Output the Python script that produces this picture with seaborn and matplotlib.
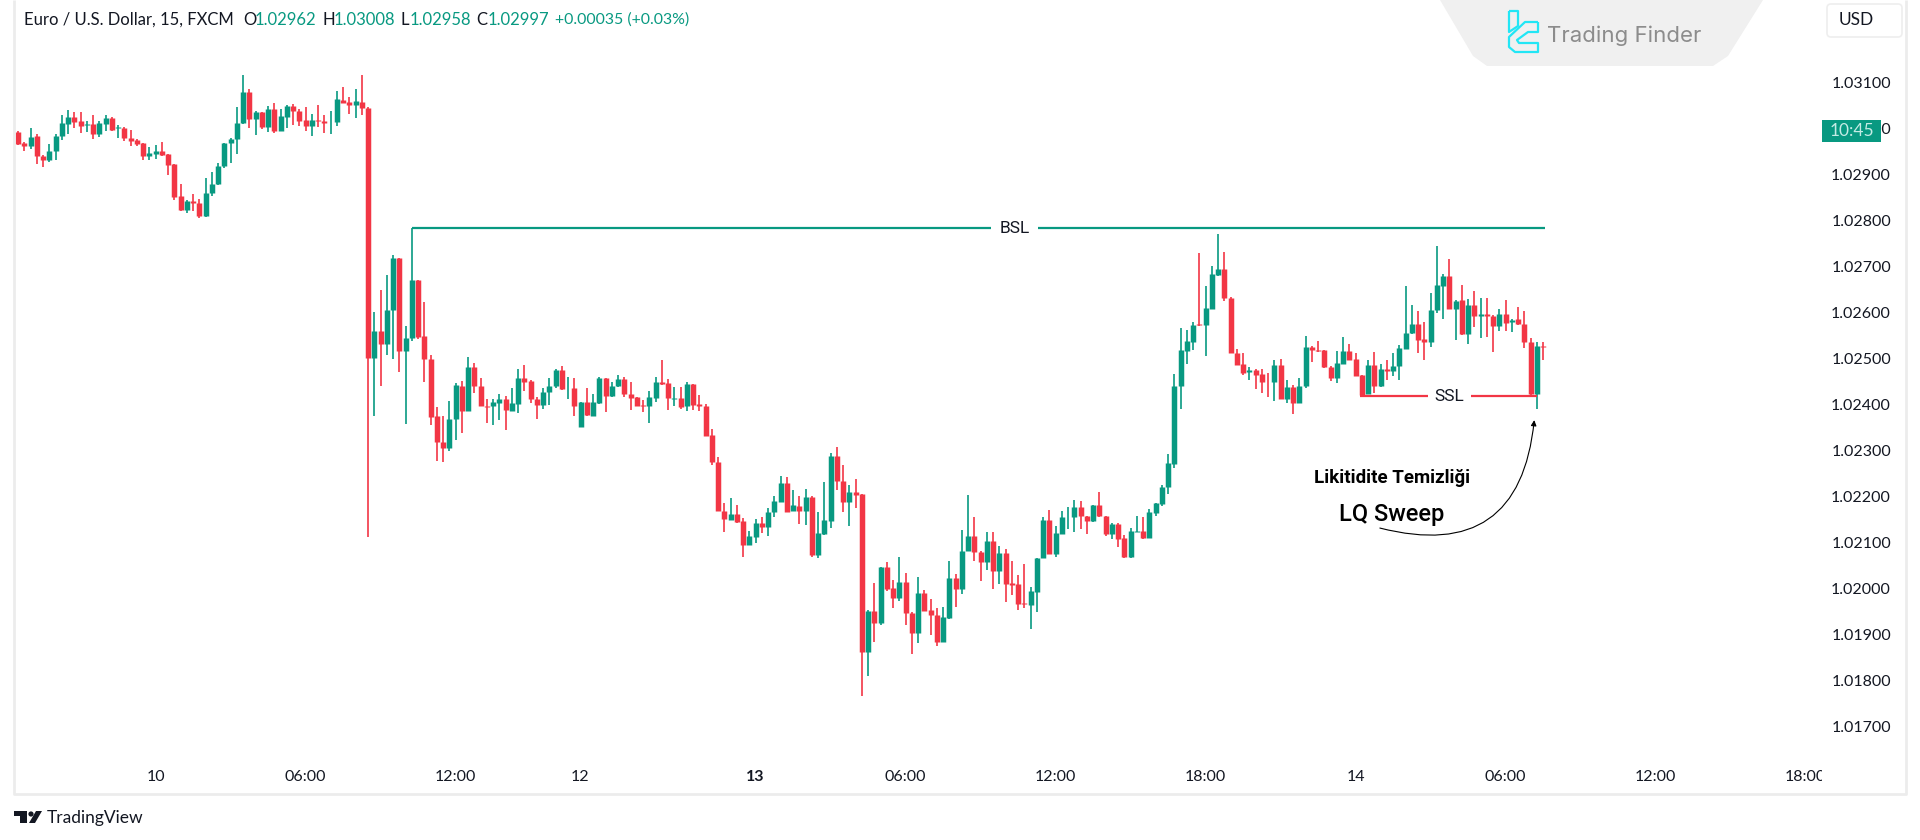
import matplotlib
matplotlib.use("Agg")
import numpy as np
import pandas as pd
import matplotlib.pyplot as plt
import matplotlib.patches as mpatches
from matplotlib.transforms import Bbox
import seaborn as sns
import seaborn.objects as so

# EURUSD 15m candles, in 1e-5 price points
directions = list(
    "RRGRRGGGGR" "RGRGGRGRRR" "RGGRRRRGRR" "GGGGGGGRGR" "GRGGRRRGRR"
    "GGRRGRRGRG" "GRGGRRRRRG" "GRGRRRGGRG" "GRRRGGGRGR" "GRGGRGGRRR"
    "RGGRRGRGRR" "RRRRGRRGGR" "GGGRGRGRGG" "GRRGRRGRGR" "RGRRGRRRGG"
    "RGGRRGRGRR" "RRGGGRGGGG" "RRGRRGRRGG" "RGGGGGGGGR" "GGGRRRRGRR"
    "RGRGRGGRRR" "RGGRRRGRGR" "GGGGRRGGGR" "GRGRGRRGRG" "RRRGR"
)
highs = [
    102996,102972,103001,102988,102943,102967,102988,103030,103041,103036,
    103036,103018,103030,103018,103030,103025,103008,103004,102998,102979,
    102970,102960,102965,102972,102946,102924,102880,102846,102859,102847,
    102893,102906,102925,102970,102981,103047,103118,103086,103038,103037,
    103051,103056,103044,103052,103054,103043,103047,103033,103052,103031,
    103038,103082,103091,103069,103087,103117,103047,102602,102650,102682,
    102725,102720,102570,102671,102671,102623,102508,102394,102375,102408,
    102446,102452,102504,102490,102457,102412,102412,102423,102419,102435,
    102477,102486,102454,102416,102436,102457,102478,102484,102459,102457,
    102406,102435,102422,102459,102457,102449,102464,102459,102448,102417,
    102409,102430,102459,102496,102455,102439,102439,102448,102445,102421,
    102401,102346,102285,102185,102196,102181,102152,102124,102150,102156,
    102174,102201,102245,102243,102214,102200,102216,102200,102167,102232,
    102294,102308,102269,102224,102237,102205,101953,102012,102046,102057,
    102018,102069,102034,101949,102024,101996,101976,101957,101959,102059,
    102030,102127,102203,102156,102080,102123,102123,102092,102085,102059,
    102028,102053,102002,102065,102155,102171,102136,102169,102176,102192,
    102190,102158,102182,102210,102158,102143,102142,102115,102131,102158,
    102156,102172,102185,102224,102292,102467,102567,102562,102580,102729,
    102657,102702,102771,102731,102634,102521,102513,102481,102478,102478,
    102468,102497,102499,102454,102443,102457,102550,102528,102539,102519,
    102483,102516,102548,102532,102512,102464,102496,102514,102489,102497,
    102513,102530,102657,102617,102603,102579,102643,102745,102685,102717,
    102627,102660,102630,102648,102632,102631,102595,102608,102628,102586,
    102612,102603,102545,102537,102537,
]
body_tops = [
    102994,102970,102983,102984,102940,102952,102985,103012,103025,103025,
    103017,103011,103011,103012,103024,103024,103004,103002,102980,102975,
    102970,102947,102951,102951,102945,102923,102853,102844,102843,102839,
    102861,102880,102920,102970,102979,103012,103081,103081,103037,103037,
    103044,103044,103028,103049,103049,103040,103019,103019,103019,103017,
    103015,103065,103064,103058,103060,103059,103046,102560,102560,102605,
    102718,102719,102544,102671,102671,102549,102500,102374,102319,102369,
    102442,102441,102481,102481,102441,102396,102406,102412,102412,102403,
    102457,102457,102451,102412,102428,102441,102475,102475,102437,102436,
    102406,102406,102405,102457,102457,102441,102455,102455,102422,102416,
    102398,102416,102450,102450,102446,102414,102414,102444,102444,102401,
    102396,102333,102275,102169,102162,102162,102147,102113,102142,102142,
    102167,102189,102230,102230,102181,102179,102198,102199,102120,102149,
    102287,102287,102234,102210,102210,102205,101951,101951,102046,102046,
    102000,102014,102014,101947,101990,101990,101953,101942,101938,102023,
    102023,102081,102113,102113,102079,102102,102102,102076,102077,102012,
    102010,101967,101994,102065,102149,102149,102120,102155,102156,102176,
    102176,102158,102181,102181,102158,102140,102140,102109,102124,102125,
    102124,102165,102185,102221,102273,102441,102518,102538,102574,102575,
    102610,102684,102695,102695,102632,102513,102489,102475,102475,102467,
    102450,102486,102486,102439,102439,102441,102525,102525,102519,102518,
    102481,102491,102516,102516,102498,102464,102486,102486,102477,102477,
    102484,102523,102556,102576,102576,102542,102606,102660,102680,102680,
    102626,102627,102617,102617,102596,102596,102592,102597,102597,102585,
    102586,102576,102536,102528,102528,
]
body_bottoms = [
    102968,102962,102962,102940,102932,102932,102951,102985,103011,103016,
    103006,103009,102989,102989,103011,102998,103001,102980,102973,102967,
    102942,102942,102946,102943,102922,102852,102824,102824,102839,102811,
    102811,102861,102879,102919,102969,102977,103012,103022,103022,103004,
    103004,102996,102996,103027,103038,103018,103006,103006,103017,103012,
    103014,103014,103057,103052,103052,103046,102502,102502,102532,102532,
    102605,102517,102517,102544,102548,102499,102373,102319,102306,102306,
    102369,102386,102386,102441,102396,102395,102396,102404,102387,102386,
    102402,102450,102411,102400,102399,102428,102441,102433,102435,102396,
    102352,102377,102376,102404,102419,102418,102441,102422,102415,102397,
    102397,102396,102415,102445,102414,102413,102394,102396,102399,102396,
    102332,102274,102168,102150,102149,102145,102094,102094,102111,102134,
    102134,102166,102188,102167,102168,102168,102168,102073,102073,102118,
    102147,102233,102188,102188,102204,101862,101862,101925,101925,101999,
    101979,101979,101946,101902,101902,101951,101941,101882,101882,101935,
    101999,101999,102081,102078,102057,102057,102038,102038,102010,102008,
    101966,101966,101964,101992,102065,102075,102075,102119,102155,102155,
    102158,102146,102146,102158,102117,102117,102108,102067,102067,102123,
    102110,102110,102163,102184,102220,102270,102441,102516,102537,102573,
    102573,102609,102683,102631,102513,102487,102469,102470,102465,102449,
    102448,102448,102413,102413,102404,102404,102441,102518,102516,102481,
    102457,102457,102489,102496,102463,102421,102423,102441,102441,102472,
    102472,102483,102521,102555,102541,102537,102537,102605,102658,102609,
    102609,102553,102553,102592,102592,102592,102571,102571,102577,102579,
    102576,102535,102423,102423,102526,
]
lows = [
    102966,102953,102956,102924,102917,102928,102932,102975,102989,103002,
    102991,102993,102979,102982,102995,102996,102980,102973,102963,102963,
    102932,102932,102934,102941,102899,102845,102821,102818,102822,102807,
    102809,102854,102878,102914,102925,102946,103011,103002,102986,102999,
    102993,102991,102995,103001,103009,103006,102996,102984,103004,102991,
    102988,103006,103056,103033,103024,103031,102112,102375,102441,102507,
    102499,102470,102358,102539,102542,102449,102355,102276,102274,102298,
    102323,102338,102386,102425,102396,102359,102355,102367,102345,102385,
    102381,102430,102404,102368,102391,102399,102435,102432,102412,102374,
    102352,102375,102375,102401,102384,102417,102439,102417,102388,102396,
    102384,102359,102406,102443,102388,102397,102391,102386,102388,102385,
    102332,102268,102168,102123,102148,102143,102069,102094,102098,102120,
    102114,102155,102188,102165,102168,102140,102138,102069,102066,102116,
    102131,102213,102165,102136,102175,101766,101809,101884,101921,101995,
    101957,101972,101920,101857,101880,101950,101898,101874,101882,101934,
    101960,101988,102080,102060,102015,102040,101999,102010,101969,101986,
    101953,101956,101911,101949,102065,102075,102067,102118,102130,102123,
    102130,102118,102145,102155,102114,102107,102089,102066,102066,102123,
    102107,102110,102158,102179,102205,102261,102390,102488,102518,102571,
    102506,102609,102679,102625,102512,102487,102465,102454,102433,102426,
    102417,102407,102412,102404,102380,102404,102436,102493,102515,102480,
    102452,102447,102489,102496,102463,102420,102423,102425,102439,102454,
    102461,102454,102521,102554,102513,102496,102526,102600,102587,102608,
    102540,102552,102532,102569,102545,102548,102515,102560,102560,102557,
    102573,102523,102420,102391,102496,
]

price_ticks = [1.031, 1.030, 1.029, 1.028, 1.027, 1.026, 1.025, 1.024,
               1.023, 1.022, 1.021, 1.020, 1.019, 1.018, 1.017]
time_bars = [22, 46, 70, 90, 118, 142, 166, 190, 214, 238, 262, 286]
time_labels = ["10", "06:00", "12:00", "12", "13", "06:00", "12:00", "18:00",
               "14", "06:00", "12:00", "18:00"]

bsl_level = 1.02784
bsl_start, bsl_end = 63, 244.3
ssl_level = 1.02418
ssl_start, ssl_end = 214.7, 243

GREEN = "#089981"
RED = "#F23645"
INK = "#131722"

sns.set_style("white")
plt.rcParams["font.family"] = ["Lato", "DejaVu Sans"]
plt.rcParams["lines.solid_capstyle"] = "butt"

df = pd.DataFrame({
    "bar": np.arange(len(highs)),
    "high": np.array(highs) / 1e5,
    "low": np.array(lows) / 1e5,
    "top": np.array(body_tops) / 1e5,
    "bottom": np.array(body_bottoms) / 1e5,
    "direction": directions,
})

fig = plt.figure(figsize=(19.2, 8.4), dpi=100)
ax = fig.add_axes([14 / 1920, 80 / 840, 1808 / 1920, 760 / 840])

(
    so.Plot(df, x="bar", color="direction")
    .add(so.Range(linewidth=1.2), ymin="low", ymax="high", legend=False, orient="x")
    .add(so.Range(linewidth=3.95), ymin="bottom", ymax="top", legend=False, orient="x")
    .scale(color={"G": GREEN, "R": RED})
    .on(ax)
    .plot()
)

ax.set_xlim(-0.64, 288.64)
ax.set_ylim(1.01626, 1.032807)
ax.set(xlabel="", ylabel="")
ax.grid(False)
for side in ax.spines:
    ax.spines[side].set_visible(False)

ax.yaxis.tick_right()
ax.set_yticks(price_ticks)
ax.set_yticklabels([f"{v:.5f}" for v in price_ticks])
ax.tick_params(axis="y", length=0, pad=49.7, labelsize=11.5, labelcolor=INK)
for tick in ax.yaxis.get_major_ticks():
    tick.label2.set_ha("right")

ax.set_xticks(time_bars)
ax.set_xticklabels(time_labels)
ax.tick_params(axis="x", length=0, pad=7, labelsize=11.5, labelcolor=INK)
ax.get_xticklabels()[4].set_fontweight("bold")
last_label = ax.get_xticklabels()[-1]
last_label.set_clip_on(True)
last_label.set_clip_box(Bbox([[0, 0], [1822, 840]]))

# liquidity levels
ax.hlines(bsl_level, bsl_start, bsl_end, color=GREEN, lw=1.6)
ax.vlines(bsl_start, 1.02671, bsl_level, color=GREEN, lw=1.2)
ax.text((bsl_start + bsl_end) / 2 + 5.8, bsl_level, "BSL", ha="center", va="center",
        fontsize=12.5, color=INK, family="Roboto",
        bbox=dict(fc="white", ec="none", pad=5.8))
ax.hlines(ssl_level, ssl_start, ssl_end, color=RED, lw=1.6)
ax.text(229, ssl_level, "SSL", ha="center", va="center", fontsize=12.5, color=INK,
        family="Roboto", bbox=dict(fc="white", ec="none", pad=4.8))

# sweep note
ax.text(219.9, 1.02241, "Likitidite Temizliği", ha="center", va="center",
        fontsize=13.5, fontweight="bold", family="Roboto", color="black")
ax.text(219.8, 1.02160, "LQ Sweep", ha="center", va="center",
        fontsize=17, fontweight="medium", family="Roboto", color="black")
ax.annotate("", xy=(242.6, 1.02366), xytext=(217.9, 1.02131),
            arrowprops=dict(arrowstyle="-|>", color="black", lw=0.8,
                            connectionstyle="arc3,rad=0.58", mutation_scale=8,
                            shrinkA=0, shrinkB=0))

# page furniture drawn on top, in picture pixels
ov = fig.add_axes([0, 0, 1, 1], zorder=5)
ov.set_xlim(0, 1920)
ov.set_ylim(840, 0)
ov.axis("off")
ov.patch.set_alpha(0)

ov.plot([14, 14, 1906, 1906], [0, 794, 794, 0], color="#ececec", lw=2)

# legend row
legend_parts = [
    (24.5, "Euro / U.S. Dollar, 15, FXCM", INK, 12),
    (243, "O", INK, 12), (255, "1.02962", GREEN, 12),
    (322, "H", INK, 12), (334, "1.03008", GREEN, 12),
    (400, "L", INK, 12), (410, "1.02958", GREEN, 12),
    (476, "C", INK, 12), (488, "1.02997", GREEN, 12),
    (555, "+0.00035 (+0.03%)", GREEN, 11.4),
]
for x, label, col, size in legend_parts:
    ov.text(x, 20, label, ha="left", va="center", fontsize=size, color=col)

# watermark
ov.add_patch(mpatches.Polygon(
    [(1440, 0), (1763, 0), (1728, 56), (1713, 66), (1487, 66), (1473, 56)],
    closed=True, fc="#f0f0f0", ec="none"))
cyan = "#22e6f5"
ov.plot([1509, 1518, 1518, 1509, 1509], [11, 11, 26, 32, 11], color=cyan, lw=1.6)
ov.plot([1538, 1525, 1509, 1509, 1515, 1538, 1538, 1519, 1517, 1528, 1538, 1538],
        [22, 22, 37, 47, 52, 52, 43, 43, 40, 32, 32, 22], color=cyan, lw=1.6)
ov.text(1547, 36, "Trading Finder", ha="left", va="center", fontsize=16,
        color="#8c8c8c", family="Inter")

# currency box and countdown tag
ov.add_patch(mpatches.FancyBboxPatch((1827, 4), 75, 33, boxstyle="round,pad=0,rounding_size=4",
                                     fc="white", ec="#eeeeee", lw=1.2))
ov.text(1839, 20, "USD", ha="left", va="center", fontsize=12.5, color=INK)
ov.add_patch(mpatches.Rectangle((1822, 120), 59, 22, fc=GREEN, ec="none"))
ov.text(1851.5, 131, "10:45", ha="center", va="center", fontsize=12.5, color="#c4ebe4")

# TradingView mark
ov.add_patch(mpatches.Polygon([(14, 811), (27, 811), (27, 823), (20, 823), (20, 816), (14, 816)],
                              closed=True, fc=INK, ec="none"))
ov.add_patch(mpatches.Circle((31, 814), 2.6, fc=INK, ec="none"))
ov.add_patch(mpatches.Polygon([(36, 811), (42, 811), (35, 823), (29, 823)],
                              closed=True, fc=INK, ec="none"))
ov.text(46.5, 818, "TradingView", ha="left", va="center", fontsize=12.5, color=INK)

fig.savefig("out.png", dpi=100)
